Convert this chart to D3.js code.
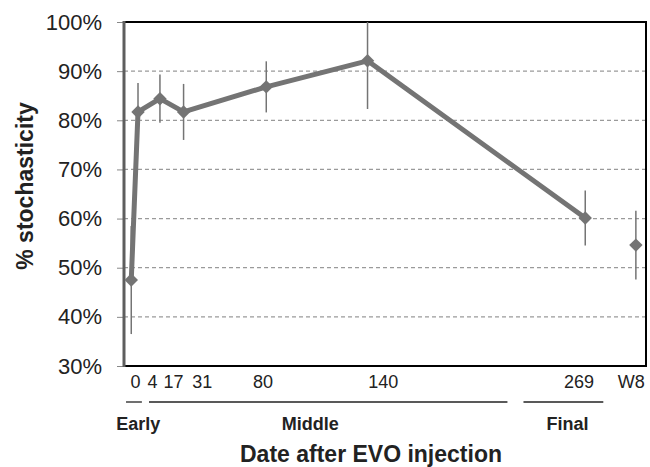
<!DOCTYPE html>
<html>
<head>
<meta charset="utf-8">
<script src="https://cdn.jsdelivr.net/npm/d3@7"></script>
<style>
  body { margin: 0; background: #fff; }
  svg { font-family: "Liberation Sans", Arial, sans-serif; }
</style>
</head>
<body>
<svg id="chart"></svg>
<script>
// days after injection and mean stochasticity (%)
const days = [0, 4, 17, 31, 80, 140, 269];
const values = [47.5, 81.7, 84.4, 81.7, 86.8, 92.1, 60.1];
const errors = [11, 5.9, 4.9, 5.7, 5.2, 9.8, 5.6];

// washout point, drawn on its own (not joined to the line)
const washDay = [299];
const washValue = [54.6];
const washError = [7];

const tickLabels = ["0", "4", "17", "31", "80", "140", "269", "W8"];
const tickDays = [2.2, 12.3, 24.7, 41.8, 77.8, 149, 265, 296];

const groupNames = ["Early", "Middle", "Final"];
const groupFrom = [-3.1, 10.5, 232.4];
const groupTo = [6.3, 222.9, 279.7];
const groupLabelDays = [4.2, 106, 258.5];

const yTicks = [30, 40, 50, 60, 70, 80, 90, 100];

const width = 650;
const height = 467;
const margin = { top: 22, right: 4, bottom: 101, left: 124 };
const grey = "#747474";

const svg = d3.select("#chart")
    .attr("width", width)
    .attr("height", height);

const xScale = d3.scaleLinear()
    .domain([-4.3, 305])
    .range([margin.left, width - margin.right]);

const yScale = d3.scaleLinear()
    .domain([30, 100])
    .range([height - margin.bottom, margin.top]);

// dashed gridlines
svg.append("g")
    .selectAll("line")
    .data(yTicks.filter(t => t > 30 && t < 100))
    .enter()
    .append("line")
    .attr("x1", margin.left)
    .attr("x2", width - margin.right)
    .attr("y1", d => yScale(d))
    .attr("y2", d => yScale(d))
    .attr("stroke", "#9a9a9a")
    .attr("stroke-width", 1.3)
    .attr("stroke-dasharray", "4,3");

// plot frame: black top/right/bottom
svg.append("path")
    .attr("d", `M${margin.left},${margin.top}H${width - margin.right}V${height - margin.bottom}H${margin.left}`)
    .attr("fill", "none")
    .attr("stroke", "#000")
    .attr("stroke-width", 2);

// y axis
const yAxis = svg.append("g")
    .attr("transform", `translate(${margin.left}, 0)`)
    .call(d3.axisLeft(yScale).tickValues(yTicks).tickFormat(d => d + "%").tickSize(7).tickPadding(15));
yAxis.select(".domain").remove();
yAxis.selectAll(".tick line").attr("stroke", "#888").attr("stroke-width", 1);
yAxis.selectAll("text")
    .attr("font-size", 22)
    .attr("fill", "#222")
    .attr("font-family", "Liberation Sans, Arial, sans-serif");

svg.append("line")
    .attr("x1", margin.left)
    .attr("x2", margin.left)
    .attr("y1", margin.top - 1)
    .attr("y2", height - margin.bottom + 1)
    .attr("stroke", "#5e5e5e")
    .attr("stroke-width", 3);

// x axis labels
const xAxis = svg.append("g")
    .attr("transform", `translate(0, ${height - margin.bottom})`)
    .call(d3.axisBottom(xScale).tickValues(tickDays).tickFormat((d, i) => tickLabels[i]).tickSize(0).tickPadding(9));
xAxis.select(".domain").remove();
xAxis.selectAll("text")
    .attr("font-size", 18)
    .attr("fill", "#222")
    .attr("font-family", "Liberation Sans, Arial, sans-serif");

// phase brackets
svg.append("g")
    .selectAll("line")
    .data(groupNames)
    .enter()
    .append("line")
    .attr("x1", (d, i) => xScale(groupFrom[i]))
    .attr("x2", (d, i) => xScale(groupTo[i]))
    .attr("y1", 402)
    .attr("y2", 402)
    .attr("stroke", "#222")
    .attr("stroke-width", 1.3);

svg.append("g")
    .selectAll("text")
    .data(groupNames)
    .enter()
    .append("text")
    .attr("x", (d, i) => xScale(groupLabelDays[i]))
    .attr("y", 430)
    .attr("text-anchor", "middle")
    .attr("font-size", 18)
    .attr("font-weight", "bold")
    .attr("fill", "#222")
    .text(d => d);

// axis titles
svg.append("text")
    .attr("x", 371)
    .attr("y", 462)
    .attr("text-anchor", "middle")
    .attr("font-size", 23)
    .attr("font-weight", "bold")
    .attr("fill", "#222")
    .text("Date after EVO injection");

svg.append("text")
    .attr("transform", "translate(33, 186) rotate(-90)")
    .attr("text-anchor", "middle")
    .attr("font-size", 23)
    .attr("font-weight", "bold")
    .attr("fill", "#222")
    .text("% stochasticity");

// error bars
const allDays = days.concat(washDay);
const allValues = values.concat(washValue);
const allErrors = errors.concat(washError);

svg.append("g")
    .selectAll("line")
    .data(allDays)
    .enter()
    .append("line")
    .attr("x1", d => xScale(d))
    .attr("x2", d => xScale(d))
    .attr("y1", (d, i) => yScale(Math.min(100, allValues[i] + allErrors[i])))
    .attr("y2", (d, i) => yScale(allValues[i] - allErrors[i]))
    .attr("stroke", grey)
    .attr("stroke-width", 1.5);

// connecting line
const line = d3.line()
    .x((d, i) => xScale(days[i]))
    .y(d => yScale(d));

svg.append("path")
    .datum(values)
    .attr("d", line)
    .attr("fill", "none")
    .attr("stroke", grey)
    .attr("stroke-width", 5)
    .attr("stroke-linejoin", "round");

// diamond markers
svg.append("g")
    .selectAll("path")
    .data(allDays)
    .enter()
    .append("path")
    .attr("d", d3.symbol().type(d3.symbolDiamond2).size(115))
    .attr("transform", (d, i) => `translate(${xScale(d)}, ${yScale(allValues[i])})`)
    .attr("fill", grey);
</script>
</body>
</html>
